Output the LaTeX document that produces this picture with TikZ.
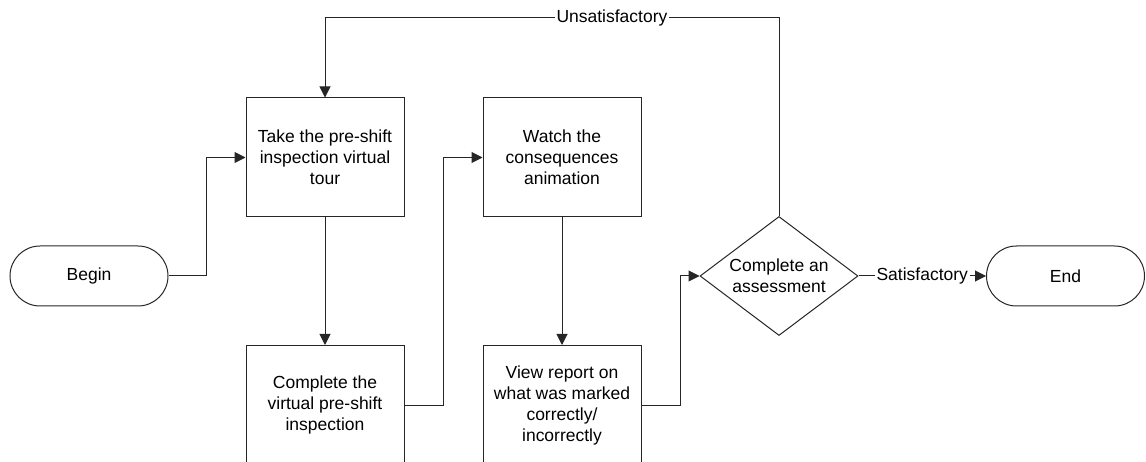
\documentclass[tikz,border=0pt]{standalone}
\usepackage{fontspec}
\setmainfont{Liberation Sans}
\usetikzlibrary{arrows.meta,shapes.geometric}
\begin{document}
\begin{tikzpicture}[x=1pt,y=-1pt,
  font=\fontsize{17.5}{21}\selectfont, line width=1pt, draw=black!85,
  proc/.style={draw=black!85, minimum width=158pt, minimum height=119pt, align=center, inner sep=0pt},
  term/.style={draw=black!85, rounded corners=30pt, minimum width=158pt, minimum height=60pt, inner sep=0pt},
  dec/.style={draw=black!85, diamond, aspect=1.33, minimum width=158pt, minimum height=119pt, align=center, inner sep=0pt},
  arr/.style={draw=black!85, -{Triangle[length=11pt,width=11pt]}},
  lab/.style={fill=white, inner sep=2pt}]
\useasboundingbox (0,0) rectangle (1146,462);
\node[term] (begin) at (89,276) {Begin};
\node[proc] (tour) at (325,157.5) {Take the pre-shift\\inspection virtual\\tour};
\node[proc] (insp) at (325,405) {Complete the\\virtual pre-shift\\inspection};
\node[proc] (anim) at (562,157.5) {Watch the\\consequences\\animation};
\node[proc] (report) at (562,405) {View report on\\what was marked\\correctly/\\incorrectly};
\node[dec] (assess) at (779,276) {Complete an\\assessment};
\node[term] (end) at (1065.5,276) {End};
\draw[arr] (begin.east) -- ++(38,0) |- (tour.west);
\draw[arr] (tour.south) -- (insp.north);
\draw[arr] (insp.east) -- ++(39,0) |- (anim.west);
\draw[arr] (anim.south) -- (report.north);
\draw[arr] (report.east) -- ++(39,0) |- (assess.west);
\draw[arr] (assess.north) -- (assess.north |- 0,18) -- node[lab, pos=0.368] {Unsatisfactory} (tour.north |- 0,18) -- (tour.north);
\draw[arr] (assess.east) -- node[lab] {Satisfactory} (end.west);
\end{tikzpicture}
\end{document}
